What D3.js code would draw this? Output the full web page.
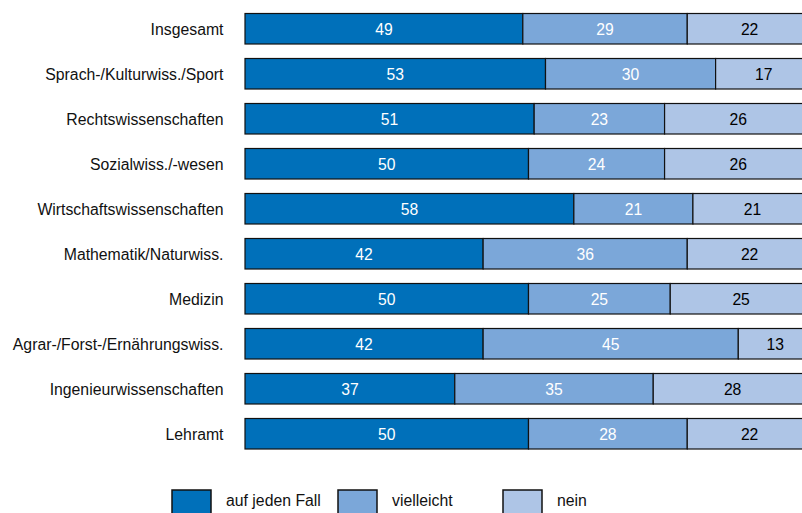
<!DOCTYPE html>
<html>
<head>
<meta charset="utf-8">
<script src="https://cdn.jsdelivr.net/npm/d3@7"></script>
<style>
html,body{margin:0;padding:0;background:#fff;}
svg{display:block;font-family:"Liberation Sans",Arial,sans-serif;}
</style>
</head>
<body>
<svg id="chart" width="802" height="513"></svg>
<script>
const categories = ["Insgesamt","Sprach-/Kulturwiss./Sport","Rechtswissenschaften","Sozialwiss./-wesen","Wirtschaftswissenschaften","Mathematik/Naturwiss.","Medizin","Agrar-/Forst-/Ernährungswiss.","Ingenieurwissenschaften","Lehramt"];
const seriesNames = ["auf jeden Fall","vielleicht","nein"];
const aufJedenFall = [49,53,51,50,58,42,50,42,37,50];
const vielleicht = [29,30,23,24,21,36,25,45,35,28];
const nein = [22,17,26,26,21,22,25,13,28,22];
const colors = ["#0070BA","#7BA7D9","#AEC5E6"];
const labelColors = ["#ffffff","#ffffff","#000000"];

const svg = d3.select("#chart");
const x = d3.scaleLinear().domain([0,100]).range([245,812]);
const y = d3.scaleBand().domain(categories).range([6.25,456.25]).paddingInner(14.5/45).paddingOuter(14.5/90);

const rows = categories.map((c,i)=>({cat:c, vals:[aufJedenFall[i],vielleicht[i],nein[i]]}));
const segs = [];
rows.forEach(r=>{
  let acc=0;
  r.vals.forEach((v,k)=>{ segs.push({cat:r.cat,k,v,x0:acc,x1:acc+v}); acc+=v; });
});

svg.append("g").selectAll("rect").data(segs).join("rect")
  .attr("x",d=>x(d.x0)).attr("y",d=>y(d.cat))
  .attr("width",d=>x(d.x1)-x(d.x0)).attr("height",y.bandwidth())
  .attr("fill",d=>colors[d.k]).attr("stroke","#111").attr("stroke-width",1.2);

svg.append("g").selectAll("text").data(segs).join("text")
  .attr("x",d=>x((d.x0+d.x1)/2)).attr("y",d=>y(d.cat)+y.bandwidth()/2+6)
  .attr("text-anchor","middle").attr("font-size","15.7px")
  .attr("fill",d=>labelColors[d.k]).text(d=>d.v);

// category axis
const yAxis = svg.append("g").attr("transform","translate(245,0)")
  .call(d3.axisLeft(y).tickSize(0).tickPadding(21.5));
yAxis.select(".domain").remove();
yAxis.selectAll("text").attr("font-size","15.8px").attr("fill","#111")
  .attr("font-family","Liberation Sans, Arial, sans-serif").attr("dy","0.42em");

// legend
const legendX = [172,338,503];
const lg = svg.append("g").selectAll("g").data(seriesNames).join("g")
  .attr("transform",(d,i)=>`translate(${legendX[i]},490)`);
lg.append("rect").attr("width",39).attr("height",30)
  .attr("fill",(d,i)=>colors[i]).attr("stroke","#111").attr("stroke-width",1.5);
lg.append("text").attr("x",54).attr("y",16).attr("font-size","15.8px").attr("fill","#111").text(d=>d);
</script>
</body>
</html>
